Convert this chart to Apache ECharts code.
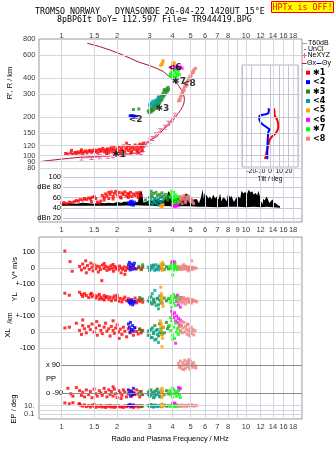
<!DOCTYPE html>
<html><head><meta charset="utf-8">
<script src="https://cdn.jsdelivr.net/npm/echarts@6/dist/echarts.min.js"></script>
<style>html,body{margin:0;padding:0;background:#fff}#chart{width:335px;height:451px}</style>
</head><body><div id="chart"></div>
<script>
const FONT = "'Liberation Sans', Arial, sans-serif";
const MONO = "'DejaVu Sans Mono', monospace";
const FMIN = 0.753, FMAX = 20.13;
const GRID_C = '#d6d6e0';

// frequency ticks
const freqGrid = [1, 1.5, 2, 3, 4, 5, 6, 7, 8, 9, 10, 12, 14, 16, 18];
const freqLabelsTop = [1, 1.5, 2, 3, 4, 5, 6, 7, 8, 10, 12, 14, 16, 18];
const freqLabelsMid = [1, 1.5, 2, 3, 4, 5, 6, 7, 8, 9, 10, 12, 14, 16, 18];
const freqLabelsBottom = [1, 1.5, 2, 3, 4, 5, 6, 7, 8, 10, 12, 14, 16, 18];
// range ticks
const rangeTicks = [800, 600, 400, 300, 200, 150, 120, 100, 90, 80];
const rangeLines = [600, 400, 300, 200, 150, 120, 100, 90, 80];
const tiltRangeLines = [100, 120, 150, 200, 300, 400];
const epLabels = [['10.', 10], ['0.1', 0.1]];
const epLines = [10, 1, 0.1];

// model profile and NeXYZ trace (MHz, km)
const modelCurve = [[1.377,741],[1.6,700],[1.83,657],[2.1,610],[2.35,568],[2.6,532],[3.01,497],[3.3,472],[3.56,448],[3.87,405],[4.12,378],[4.3,350],[4.45,325],[4.55,305],[4.62,285],[4.63,268],[4.6,255],[4.53,240],[4.42,226],[4.29,213],[4.15,200],[4.03,189],[3.87,177],[3.71,168],[3.56,159],[3.42,150],[3.28,141],[3.12,135],[3.01,131],[2.9,127],[2.83,123],[2.77,116],[2.72,110],[2.66,106],[2.45,104],[2.25,103],[2.0,101],[1.75,99.5],[1.5,98.3],[1.26,97.2],[1.1,95.5],[0.98,93.8],[0.85,91.8],[0.76,89.9]];
const neXYZ = [[1.28,96],[1.45,97],[1.61,98],[1.78,99],[1.9,100],[2.1,102],[2.35,104],[2.55,105],[2.68,106],[2.77,112],[2.88,123],[3.0,130],[3.1,136],[3.25,145],[3.42,156],[3.62,166],[3.79,178],[3.95,191],[4.12,206]];

// tilt profiles (deg, km)
const thetaX = [[-5.4,94.3],[-4.3,101],[-3.2,110.7],[-1.8,121],[-0.7,132],[1.8,140],[5.4,147],[7.9,156],[8.9,168],[8.6,180],[7.5,191],[5.7,200],[4.6,210],[5.0,219],[4.0,227],[5.4,231]];
const thetaY = [[-2.9,93.8],[-2.9,110.7],[-2.5,132],[-1.8,153],[-0.4,160],[-3.6,166],[-7.1,173],[-10,180],[-11.4,191],[-11.4,203],[-8.9,206.6],[-4.6,209],[-1.8,213],[-1.1,226],[0.4,230],[-1.8,233]];

// echo clusters: range (MHz, km)
const c1Range = [[1.05,104],[1.08,103],[1.12,105],[1.15,103],[1.18,106],[1.2,104],[1.22,107],[1.25,105],[1.27,108],[1.3,104],[1.32,107],[1.35,109],[1.37,105],[1.4,108],[1.42,110],[1.45,106],[1.47,109],[1.5,111],[1.52,107],[1.55,110],[1.57,105],[1.6,112],[1.62,108],[1.65,110],[1.67,114],[1.7,107],[1.72,111],[1.75,109],[1.77,113],[1.8,106],[1.82,111],[1.85,115],[1.87,108],[1.9,112],[1.92,117],[1.95,110],[1.97,106],[2.0,113],[2.03,118],[2.06,109],[2.1,115],[2.13,111],[2.16,119],[2.2,107],[2.23,113],[2.26,116],[2.3,110],[2.33,120],[2.36,114],[2.4,108],[2.43,117],[2.46,112],[2.5,121],[2.53,115],[2.56,110],[2.6,119],[2.63,113],[2.66,123],[2.7,116],[2.73,109],[2.76,120],[2.78,125],[1.13,110],[1.28,111],[1.75,104],[2.08,104],[2.38,105],[2.6,106],[2.25,125],[2.7,121]];
const c2Range = [[2.35,203],[2.38,204],[2.41,203],[2.44,202],[2.47,203],[2.5,201],[2.53,200],[2.56,199],[2.38,200],[2.45,199]];
const c3Range = [[2.45,228],[2.62,230],[2.95,222],[2.98,215],[3.02,228],[3.05,218],[3.08,232],[3.1,222],[3.13,238],[3.15,226],[3.2,245],[3.22,232],[3.25,252],[3.28,240],[3.3,260],[3.33,248],[3.36,270],[3.4,255],[3.42,280],[3.45,265],[3.48,290],[3.5,272],[3.53,300],[3.56,285],[3.58,312],[3.62,295],[3.65,320],[3.68,305],[3.72,330],[3.75,315],[3.78,338],[3.8,325],[3.35,285],[3.6,325]];
const c4Range = [[3.0,248],[3.05,256],[3.1,250],[3.12,264],[3.18,258],[3.22,268],[3.27,262],[3.3,274],[3.35,268],[3.38,280],[3.42,276],[3.15,246],[3.25,252],[3.02,240]];
const c5Range = [[3.44,500],[3.47,510],[3.5,505],[3.52,520],[3.55,545],[3.53,530],[3.98,495],[4.02,505],[4.05,515],[4.08,525],[4.0,520],[4.1,500]];
const c6Range = [[3.92,480],[3.98,470],[4.03,488],[4.08,475],[4.15,482],[4.2,470],[4.28,478],[4.35,470],[4.42,486],[4.5,475],[4.05,460],[4.25,492]];
const c7Range = [[3.9,430],[3.95,445],[4.0,420],[4.05,455],[4.08,410],[4.12,440],[4.15,400],[4.2,430],[4.25,415],[4.3,450],[3.92,405],[4.0,395],[4.18,460],[4.35,425],[3.88,420]];
const c8Range = [[4.3,265],[4.35,272],[4.4,280],[4.42,290],[4.46,298],[4.5,305],[4.53,315],[4.57,322],[4.6,330],[4.64,340],[4.68,348],[4.72,355],[4.76,365],[4.8,375],[4.85,385],[4.9,395],[4.95,405],[5.0,415],[5.05,425],[5.1,438],[5.15,448],[5.2,458],[5.27,468],[5.33,475],[4.38,268],[4.48,292],[4.62,318],[4.74,345],[4.88,380],[5.02,410],[5.18,440]];
const clusterTags = [['✱1',2.05,102.7],['<2',2.52,191],['✱3',3.52,233],['<6',4.1,476],['✱7',4.33,377],['<8',4.9,358]];

// amplitude (MHz, dB)
const c1Amp = [[1.0,49],[1.03,50],[1.06,48],[1.1,51],[1.13,50],[1.17,52],[1.2,54],[1.23,53],[1.26,56],[1.3,55],[1.33,58],[1.36,56],[1.4,59],[1.43,57],[1.46,60],[1.5,62],[1.53,58],[1.56,51],[1.6,49],[1.63,53],[1.66,64],[1.7,60],[1.73,67],[1.76,63],[1.8,70],[1.83,66],[1.86,71],[1.9,62],[1.93,68],[1.96,72],[2.0,65],[2.04,70],[2.08,61],[2.12,69],[2.16,66],[2.2,71],[2.24,63],[2.28,68],[2.32,65],[2.36,70],[2.4,62],[2.45,67],[2.5,64],[2.55,69],[2.6,66],[2.65,70],[2.7,63],[1.7,55],[1.9,57],[2.1,59],[2.3,60],[1.45,52],[1.8,58],[2.6,60]];
const c2Amp = [[2.3,50],[2.33,47],[2.36,52],[2.39,46],[2.42,49],[2.45,45],[2.48,51],[2.4,53]];
const c3Amp = [[2.85,55],[3.0,60],[3.03,66],[3.06,72],[3.1,62],[3.15,68],[3.2,58],[3.25,70],[3.3,64],[3.35,57],[3.4,66],[3.45,61],[3.5,69],[3.55,63],[3.6,58],[3.65,66],[3.7,60],[3.75,55],[3.8,62],[3.0,52],[3.2,50]];
const c4Amp = [[3.0,50],[3.05,56],[3.1,47],[3.15,53],[3.2,58],[3.25,49],[3.3,55],[3.35,45],[3.4,52],[3.45,60],[3.5,48],[3.55,54]];
const c5Amp = [[3.45,43],[3.48,45],[3.5,42],[3.53,44],[3.55,46]];
const c6Amp = [[3.98,44],[4.02,47],[4.06,43],[4.1,46],[4.15,42],[4.2,45],[4.25,48],[4.3,44]];
const c7Amp = [[3.88,60],[3.92,66],[3.95,72],[3.98,55],[4.02,63],[4.05,70],[4.08,58],[4.12,52],[4.15,65],[4.18,60],[4.22,55],[4.28,50],[4.32,62],[4.38,57],[4.0,48],[4.1,50]];
const c8Amp = [[4.35,52],[4.4,58],[4.45,62],[4.5,55],[4.55,60],[4.6,64],[4.65,57],[4.7,53],[4.75,61],[4.8,58],[4.85,63],[4.9,55],[4.95,60],[5.0,52],[5.05,57],[5.1,54],[5.15,50],[5.2,48],[4.5,48],[4.7,50]];
// noise level envelope (MHz, dB)
const noiseTop = [[1.0,48],[1.1,49],[1.2,48],[1.3,50],[1.4,49],[1.5,48],[1.6,50],[1.7,49],[1.8,50],[1.9,49],[2.0,51],[2.1,50],[2.2,52],[2.3,50],[2.4,51],[2.5,50],[2.6,52],[2.63,70],[2.72,72],[2.78,50],[2.9,52],[3.0,55],[3.1,53],[3.3,56],[3.5,54],[3.7,58],[3.78,72],[3.85,70],[3.95,58],[4.1,56],[4.3,60],[4.6,62],[4.7,68],[4.85,66],[5.0,58],[5.2,56],[5.4,57],[5.55,49],[5.7,60],[5.82,76],[5.9,56],[5.95,68],[6.1,65],[6.25,58],[6.37,62],[6.5,56],[6.64,66],[6.8,58],[6.93,62],[7.1,56],[7.23,68],[7.37,52],[7.5,60],[7.69,58],[7.85,52],[8.0,68],[8.2,60],[8.35,63],[8.5,55],[8.6,51],[8.8,58],[9.1,62],[9.3,58],[9.46,73],[9.7,68],[9.9,71],[10.1,66],[10.35,75],[10.6,70],[10.8,72],[11.0,66],[11.3,69],[11.5,64],[11.67,73],[11.9,62],[12.05,50],[12.15,52],[12.3,46],[12.4,58],[12.6,54],[12.95,62],[13.2,55],[13.4,49],[13.6,52],[13.9,56],[14.2,50],[14.5,49],[14.8,46],[15.1,44],[15.3,43]];
const noiseBottom = [[15.3,40],[14,41],[13,42],[12,41],[11,42],[10,41],[9,42],[8,42],[7,41],[6,42],[5.5,42],[5,43],[4,43],[3,44],[2.5,45],[2,44],[1.5,44],[1,44]];

// Doppler velocity V* (MHz, m/s)
const c1Vel = [[1.04,106],[1.11,40],[1.14,-20],[1.25,10],[1.28,-12],[1.3,25],[1.33,0],[1.36,-30],[1.38,15],[1.41,-8],[1.44,30],[1.46,5],[1.48,-18],[1.5,20],[1.53,-5],[1.55,12],[1.58,-25],[1.6,8],[1.62,-10],[1.65,-79],[1.66,18],[1.7,-3],[1.73,10],[1.76,-15],[1.79,5],[1.82,-8],[1.85,14],[1.88,-2],[1.91,-20],[1.94,9],[1.97,-6],[2.0,4],[2.03,-12],[2.06,12],[2.1,0],[2.14,-9],[2.18,7],[2.22,-16],[2.26,3],[2.3,-4],[2.35,10],[2.2,-40],[2.1,-30],[1.9,22],[1.7,28],[1.35,45],[2.45,8],[2.55,-5],[2.62,3],[2.7,-10],[2.75,6]];
const c2Vel = [[2.3,20],[2.33,35],[2.36,5],[2.39,25],[2.42,-8],[2.45,15],[2.48,30],[2.5,-5],[2.35,-12]];
const c3Vel = [[2.62,10],[2.7,-5],[2.75,20],[3.0,-15],[3.05,5],[3.15,18],[3.25,-8],[3.35,12],[3.45,-3],[3.55,22],[3.6,-10],[3.7,8],[3.8,-5]];
const c4Vel = [[2.95,5],[3.0,-10],[3.05,15],[3.1,-5],[3.15,10],[3.2,-15],[3.25,20],[3.3,0],[3.35,-12],[3.4,8]];
const c5Vel = [[3.45,25],[3.48,5],[3.5,-15],[3.52,35],[3.55,-5],[3.5,15]];
const c6Vel = [[3.95,35],[4.0,40],[4.05,30],[4.1,38],[4.02,25]];
const c7Vel = [[3.85,10],[3.9,-5],[3.95,20],[4.0,0],[4.05,-12],[4.1,15],[4.15,-3],[4.2,8],[4.25,-10],[4.3,5],[4.35,-5],[4.0,-44],[4.12,25]];
const c8Vel = [[4.3,10],[4.35,-5],[4.4,5],[4.45,-10],[4.5,12],[4.55,0],[4.6,-8],[4.65,8],[4.7,-3],[4.75,10],[4.8,-12],[4.85,3],[4.9,-6],[4.95,7],[5.0,-4],[5.05,2],[5.1,-10],[5.15,5],[5.25,-2],[5.35,0],[5.07,45],[4.6,20],[4.9,-18]];

// echo location YL (MHz, km)
const c1YL = [[1.04,42],[1.1,30],[1.25,48],[1.28,35],[1.3,22],[1.33,40],[1.36,28],[1.4,15],[1.43,35],[1.46,20],[1.5,30],[1.53,12],[1.56,25],[1.6,35],[1.63,18],[1.66,8],[1.7,28],[1.73,15],[1.76,22],[1.8,5],[1.83,18],[1.86,-5],[1.9,12],[1.93,25],[1.96,0],[2.0,15],[2.04,-8],[2.08,10],[2.12,-12],[2.16,5],[2.2,18],[2.25,-5],[2.3,8],[2.35,-15],[2.4,2],[2.45,-10],[2.5,12],[2.55,-18],[2.6,0],[2.65,-8],[2.7,6],[2.75,-14],[1.6,5],[2.0,30],[1.45,42],[1.7,0]];
const c2YL = [[2.3,-5],[2.33,-15],[2.36,-25],[2.4,-10],[2.43,-30],[2.46,-18],[2.5,-8],[2.38,0]];
const c3YL = [[2.65,15],[2.75,5],[3.0,-10],[3.05,20],[3.1,-25],[3.15,5],[3.2,-15],[3.3,10],[3.35,-30],[3.4,0],[3.5,-20],[3.6,12],[3.7,-5],[3.8,8]];
const c4YL = [[2.95,-5],[3.0,15],[3.05,-20],[3.1,40],[3.15,-8],[3.2,60],[3.25,-35],[3.3,10],[3.35,-55],[3.4,25],[3.45,-12]];
const c5YL = [[3.45,80],[3.47,40],[3.5,10],[3.52,-20],[3.55,-40],[3.5,25],[3.48,-5]];
const c6YL = [[4.15,20],[4.2,-10],[4.25,30],[4.3,-30],[4.35,5],[4.4,-45],[4.45,15]];
const c7YL = [[3.85,10],[3.9,-15],[3.95,25],[4.0,0],[4.05,-20],[4.1,15],[4.15,-35],[4.2,5],[4.25,-5],[4.3,20],[3.95,-45],[4.05,35]];
const c8YL = [[4.3,5],[4.35,-10],[4.4,10],[4.45,-5],[4.5,-20],[4.55,8],[4.6,-12],[4.65,0],[4.7,-25],[4.75,5],[4.8,-8],[4.85,10],[4.9,-15],[4.95,0],[5.0,-5],[5.05,-20],[5.1,3],[5.15,-10],[5.2,-3],[5.3,-6],[5.4,-12],[4.6,15]];

// echo location XL (MHz, km)
const c1XL = [[1.04,25],[1.1,30],[1.2,55],[1.25,10],[1.28,-15],[1.3,40],[1.33,20],[1.36,-5],[1.4,35],[1.43,15],[1.46,50],[1.5,0],[1.53,25],[1.56,-20],[1.6,40],[1.63,10],[1.66,-10],[1.7,30],[1.73,55],[1.76,5],[1.8,20],[1.83,-25],[1.86,35],[1.9,10],[1.93,-8],[1.96,25],[2.0,45],[2.04,0],[2.08,18],[2.12,-15],[2.16,30],[2.2,5],[2.25,-30],[2.3,20],[2.35,-5],[2.4,12],[2.45,-20],[2.5,28],[2.55,3],[2.6,-12],[2.65,15],[2.7,-5],[2.75,10],[1.9,70],[2.05,-40],[1.55,65],[1.3,75]];
const c2XL = [[2.3,50],[2.33,30],[2.36,60],[2.39,15],[2.42,40],[2.45,5],[2.48,25],[2.35,0]];
const c3XL = [[2.65,20],[2.72,5],[2.95,-20],[3.0,10],[3.05,-35],[3.1,25],[3.15,-10],[3.2,40],[3.25,-45],[3.3,15],[3.35,-25],[3.4,50],[3.45,0],[3.5,-15],[3.55,30],[3.6,-5],[3.7,60],[3.75,20],[3.8,35]];
const c4XL = [[2.95,5],[3.0,-20],[3.05,15],[3.1,-35],[3.15,0],[3.2,-50],[3.25,10],[3.3,-15],[3.35,-65],[3.4,-5],[3.45,20]];
const c5XL = [[3.42,70],[3.45,40],[3.48,10],[3.5,-20],[3.52,-40],[3.55,25],[3.5,-92],[3.47,55]];
const c6XL = [[3.95,130],[4.0,110],[4.05,90],[4.1,120],[4.15,70],[4.2,100],[4.25,60],[4.3,85],[4.35,45],[4.4,75],[4.45,40],[4.15,-70]];
const c7XL = [[3.85,40],[3.9,10],[3.95,70],[4.0,-20],[4.05,30],[4.1,-40],[4.15,55],[4.2,0],[4.25,20],[4.3,-15],[4.35,35],[4.4,5],[3.9,90],[4.0,-45]];
const c8XL = [[4.3,30],[4.35,55],[4.4,10],[4.45,40],[4.5,-5],[4.55,25],[4.6,60],[4.65,0],[4.7,35],[4.75,15],[4.8,-15],[4.85,45],[4.9,5],[4.95,20],[5.0,-10],[5.05,30],[5.1,0],[5.15,15],[5.2,-18],[5.3,8],[4.5,65],[4.8,50],[4.95,-25]];

// polarization PP (MHz, deg)
const c1PP = [[1.08,-60],[1.12,-95],[1.25,-75],[1.28,-105],[1.3,-85],[1.33,-115],[1.36,-70],[1.4,-100],[1.43,-80],[1.46,-120],[1.5,-65],[1.53,-95],[1.56,-110],[1.6,-75],[1.63,-90],[1.66,-105],[1.7,-60],[1.73,-85],[1.76,-115],[1.8,-70],[1.83,-100],[1.86,-80],[1.9,-110],[1.93,-65],[1.96,-95],[2.0,-120],[2.04,-75],[2.08,-90],[2.12,-105],[2.16,-70],[2.2,-85],[2.25,-115],[2.3,-95],[2.35,-75],[2.4,-110],[2.45,-85],[2.5,-100],[2.55,-70],[2.6,-95],[2.65,-115],[2.7,-80],[2.75,-100],[1.2,-55],[1.15,-110],[1.9,-50],[2.1,-125]];
const c2PP = [[2.3,-70],[2.33,-90],[2.36,-110],[2.39,-80],[2.42,-100],[2.45,-60],[2.48,-95]];
const c3PP = [[2.65,-80],[2.72,-100],[2.95,-85],[3.0,-110],[3.05,-70],[3.1,-95],[3.15,-120],[3.2,-80],[3.25,-100],[3.3,-65],[3.35,-90],[3.4,-115],[3.5,-80],[3.6,-100],[3.7,-75],[3.8,-95]];
const c4PP = [[2.95,-100],[3.0,-75],[3.05,-105],[3.1,-85],[3.15,-95],[3.2,-115],[3.25,-75],[3.3,-100],[3.35,-85],[3.4,-110]];
const c5PP = [[3.45,-70],[3.48,-90],[3.5,-120],[3.52,-80],[3.55,-105],[3.5,-60]];
const c6PP = [[4.3,-55],[4.35,-65],[4.4,-60]];
const c7PP = [[3.85,-75],[3.9,-100],[3.95,-85],[4.0,-115],[4.05,-70],[4.1,-95],[4.15,-80],[4.2,-110],[4.25,-90],[4.3,-75],[4.35,-100],[4.4,-120],[4.0,-60]];
const c8PP = [[4.3,100],[4.35,75],[4.4,115],[4.45,85],[4.5,65],[4.55,105],[4.6,90],[4.65,120],[4.7,70],[4.75,95],[4.8,110],[4.85,80],[4.9,100],[4.95,65],[5.0,115],[5.05,85],[5.1,95],[5.15,75],[5.2,105],[5.3,85],[5.35,70],[4.9,125],[4.6,60]];

// EP (MHz, deg)
const c1EP = [[1.04,45],[1.1,28],[1.15,50],[1.24,22],[1.27,12],[1.3,8],[1.33,15],[1.36,6],[1.4,10],[1.43,5],[1.46,12],[1.5,7],[1.53,4],[1.56,9],[1.6,6],[1.63,11],[1.66,5],[1.7,8],[1.73,4],[1.76,10],[1.8,6],[1.83,12],[1.86,5],[1.9,8],[1.93,4],[1.96,9],[2.0,6],[2.04,10],[2.08,5],[2.12,7],[2.16,4],[2.2,9],[2.25,6],[2.3,11],[2.35,5],[2.4,8],[2.45,4],[2.5,7],[2.55,10],[2.6,5],[2.65,8],[2.7,6],[2.75,9],[1.25,30],[1.5,20]];
const c2EP = [[2.3,12],[2.35,20],[2.4,8],[2.45,15]];
const c3EP = [[2.65,10],[2.72,7],[2.95,12],[3.0,6],[3.05,18],[3.1,9],[3.15,5],[3.2,14],[3.3,8],[3.4,11],[3.5,6],[3.6,13],[3.7,8],[3.8,10]];
const c4EP = [[3.0,10],[3.05,8],[3.1,12],[3.15,7],[3.2,9],[3.25,11],[3.3,6],[3.35,10],[3.4,8]];
const c5EP = [[3.45,15],[3.48,8],[3.5,25],[3.52,6],[3.55,12]];
const c6EP = [[4.0,35],[4.05,25],[4.1,40],[4.15,20]];
const c7EP = [[3.85,10],[3.9,7],[3.95,13],[4.0,8],[4.05,11],[4.1,6],[4.15,9],[4.2,12],[4.25,7],[4.3,10]];
const c8EP = [[4.3,12],[4.4,9],[4.5,15],[4.6,8],[4.7,12],[4.8,10],[4.9,14],[5.0,9],[5.1,11],[5.2,8],[5.3,12],[5.4,10],[4.45,7],[4.75,7],[5.05,16]];

const clusterNames = ['✱1', '<2', '✱3', '<4', '<5', '<6', '✱7', '<8'];
const clusterColors = ['#ff0000', '#0000ff', '#1e8c1e', '#00a0a0', '#ffa000', '#ff00ff', '#00ff00', '#f08080'];

const clusters = [
  [c1Range, c1Amp, c1Vel, c1YL, c1XL, c1PP, c1EP],
  [c2Range, c2Amp, c2Vel, c2YL, c2XL, c2PP, c2EP],
  [c3Range, c3Amp, c3Vel, c3YL, c3XL, c3PP, c3EP],
  [c4Range, c4Amp, c4Vel, c4YL, c4XL, c4PP, c4EP],
  [c5Range, c5Amp, c5Vel, c5YL, c5XL, c5PP, c5EP],
  [c6Range, c6Amp, c6Vel, c6YL, c6XL, c6PP, c6EP],
  [c7Range, c7Amp, c7Vel, c7YL, c7XL, c7PP, c7EP],
  [c8Range, c8Amp, c8Vel, c8YL, c8XL, c8PP, c8EP]
];

// grid layout: 0 range, 1 amplitude, 2 V*, 3 YL, 4 XL, 5 PP, 6 EP, 7 upper frame, 8 lower frame, 9 tilt inset
const grids = [
  {left: 39, top: 39, width: 263, height: 132},
  {left: 63, top: 177, width: 239, height: 41},
  {left: 39, top: 252, width: 263, height: 32},
  {left: 39, top: 284, width: 263, height: 32},
  {left: 39, top: 316, width: 263, height: 32},
  {left: 39, top: 365, width: 263, height: 28},
  {left: 39, top: 401.4, width: 263, height: 12.9},
  {left: 39, top: 39, width: 263, height: 183, show: true, borderColor: '#999', borderWidth: 1, backgroundColor: 'transparent'},
  {left: 39, top: 237, width: 263, height: 182, show: true, borderColor: '#999', borderWidth: 1, backgroundColor: 'transparent'},
  {left: 242, top: 65, width: 56, height: 102, show: true, borderColor: '#b4b4c4', borderWidth: 1, backgroundColor: '#fff'}
];

const hidden = {axisLine: {show: false}, axisTick: {show: false}, splitLine: {show: false}};
const tickText = {fontSize: 7.5, fontFamily: FONT, color: '#000'};

function freqAxis(i, min) {
  return Object.assign({type: 'log', logBase: 10, gridIndex: i, min: min || FMIN, max: FMAX, axisLabel: {show: false}}, hidden);
}
const xAxes = [];
for (let i = 0; i < 9; i++) xAxes.push(freqAxis(i, i === 1 ? 1.016 : FMIN));
xAxes.push({type: 'value', gridIndex: 9, min: -30, max: 30, interval: 10,
  axisLine: {show: false}, axisTick: {show: false},
  splitLine: {show: true, lineStyle: {color: '#c4c4d4', width: 1}},
  axisLabel: {margin: 1, fontSize: 6.5, fontFamily: FONT, color: '#000', formatter: v => Math.abs(v) === 30 ? '' : String(v)},
  name: 'Tilt / deg', nameLocation: 'middle', nameGap: 8, nameTextStyle: {fontSize: 6.5, fontFamily: FONT, color: '#000'}});

function rowAxis(i, labels) {
  return Object.assign({}, hidden, {type: 'value', gridIndex: i, min: -100, max: 100, interval: 100,
    splitLine: {show: true, lineStyle: {color: GRID_C, width: 1}},
    axisLabel: Object.assign({margin: 4, formatter: v => labels[v] || ''}, tickText)});
}
const yAxes = [
  Object.assign({type: 'log', logBase: 10, gridIndex: 0, min: 76.15, max: 800, axisLabel: {show: false}}, hidden),
  Object.assign({}, hidden, {type: 'value', gridIndex: 1, min: 20, max: 100, interval: 20,
    splitLine: {show: true, lineStyle: {color: '#c4c4e4', width: 1}},
    axisLabel: Object.assign({margin: 2, formatter: v => ({100: '100', 80: 'dBe 80', 60: '60', 40: '40', 20: 'dBn 20'})[v] || ''}, tickText)}),
  rowAxis(2, {'100': '100', '0': '0', '-100': '+-100'}),
  rowAxis(3, {'0': '0', '-100': '+-100'}),
  rowAxis(4, {'0': '0', '-100': '-100'}),
  Object.assign({}, hidden, {type: 'value', gridIndex: 5, min: -90, max: 90, interval: 90,
    axisLabel: Object.assign({inside: true, margin: 7, formatter: v => ({90: 'x 90', 0: 'PP', '-90': 'o -90'})[v] || ''}, tickText)}),
  Object.assign({type: 'log', logBase: 10, gridIndex: 6, min: 0.1, max: 100, axisLabel: {show: false}}, hidden),
  Object.assign({type: 'value', gridIndex: 7, min: 0, max: 1, axisLabel: {show: false}}, hidden),
  Object.assign({type: 'value', gridIndex: 8, min: 0, max: 1, axisLabel: {show: false}}, hidden),
  Object.assign({type: 'log', logBase: 10, gridIndex: 9, min: 81.75, max: 503.7, axisLabel: {show: false}}, hidden)
];

const series = [];
function lineMarks(axisIndex, items, color, z) {
  series.push({type: 'line', xAxisIndex: axisIndex, yAxisIndex: axisIndex, data: [], silent: true, z: z,
    markLine: {silent: true, symbol: ['none', 'none'], animation: false, label: {show: false},
      lineStyle: {color: color, width: 1, type: 'solid'}, emphasis: {disabled: true}, data: items}});
}
// frequency grid lines through both panels
lineMarks(7, freqGrid.map(f => ({xAxis: f})), GRID_C, -1);
lineMarks(8, freqGrid.map(f => ({xAxis: f})), GRID_C, -1);
// range grid lines
lineMarks(0, rangeLines.map(r => ({yAxis: r})), GRID_C, -1);
// tilt inset range lines
lineMarks(9, tiltRangeLines.map(r => ({yAxis: r})), '#c4c4d4', 1);
// PP reference lines
lineMarks(5, [[{coord: [1.0, 90]}, {coord: [FMAX, 90]}], [{coord: [1.0, -90]}, {coord: [FMAX, -90]}]], '#8a8a8a', 1);
// EP lines
lineMarks(6, epLines.map(v => ({yAxis: v})), GRID_C, -1);

function textSeries(axisIndex, items, pos, dist, style) {
  series.push({type: 'scatter', xAxisIndex: axisIndex, yAxisIndex: axisIndex, silent: true, clip: false, z: 6,
    symbol: 'circle', symbolSize: 1, itemStyle: {color: 'rgba(0,0,0,0)'},
    data: items.map(it => ({name: it[0], value: [it[1], it[2]]})),
    label: Object.assign({show: true, position: pos, distance: dist, formatter: '{b}'}, style || tickText)});
}
// frequency tick labels
textSeries(7, freqLabelsTop.map(f => [String(f), f, 1]), 'top', -1);
textSeries(7, freqLabelsMid.map(f => [String(f), f, 0]), 'bottom', 3);
textSeries(8, freqLabelsBottom.map(f => [String(f), f, 0]), 'bottom', 3);
// range tick labels
textSeries(0, rangeTicks.map(r => [String(r), FMIN, r]), 'left', 3);
// EP tick labels
textSeries(6, epLabels.map(e => [e[0], FMIN, e[1]]), 'left', 4);

// noise level
series.push({type: 'custom', name: 'T60dB', xAxisIndex: 1, yAxisIndex: 1, clip: false, silent: true, z: 2,
  data: [[1, 40]],
  renderItem: (params, api) => ({type: 'polygon', shape: {points: noiseTop.concat(noiseBottom).map(p => api.coord(p))}, style: {fill: '#000'}})});

// model profile and NeXYZ
series.push({type: 'line', name: 'model', xAxisIndex: 0, yAxisIndex: 0, data: modelCurve, showSymbol: false, symbol: 'none',
  lineStyle: {color: '#a8143c', width: 1}, silent: true, z: 2});
series.push({type: 'line', name: 'NeXYZ', xAxisIndex: 0, yAxisIndex: 0, data: neXYZ,
  symbol: 'path://M0,0H5V1H3V5H5V6H0V5H2V1H0Z', symbolSize: [4, 5], showSymbol: true,
  itemStyle: {color: '#f0609a'}, lineStyle: {color: '#f0609a', width: 1}, silent: true, z: 2});

// echo clusters in every panel (panel index equals grid index 0..6)
clusters.forEach((c, k) => {
  c.forEach((pts, panel) => {
    series.push({type: 'scatter', name: clusterNames[k], xAxisIndex: panel, yAxisIndex: panel,
      data: pts, symbol: 'rect', symbolSize: 3, clip: false, silent: true, z: 3,
      itemStyle: {color: clusterColors[k]}});
  });
});

// cluster tags on the range panel
textSeries(0, clusterTags, 'inside', 0, {fontSize: 9, fontWeight: 'bold', fontFamily: "'DejaVu Sans', sans-serif", color: '#000'});

// tilt profiles
series.push({type: 'line', name: 'Θx', xAxisIndex: 9, yAxisIndex: 9, data: thetaX, symbol: 'none',
  lineStyle: {color: '#ff0000', width: 2}, silent: true, z: 4});
series.push({type: 'line', name: 'Θy', xAxisIndex: 9, yAxisIndex: 9, data: thetaY, symbol: 'none',
  lineStyle: {color: '#0000ff', width: 2}, silent: true, z: 4});

// static texts, axis titles and key
const graphic = [
  {type: 'text', x: 35, y: 12, style: {text: 'TROMSO NORWAY   DYNASONDE 26-04-22 1420UT 15°E', font: '8.3px ' + MONO, fill: '#000', textAlign: 'left', textVerticalAlign: 'middle'}},
  {type: 'text', x: 57, y: 19.7, style: {text: '8pBP6It DoY= 112.597 File= TR944419.BPG', font: '8.3px ' + MONO, fill: '#000', textAlign: 'left', textVerticalAlign: 'middle'}},
  {type: 'rect', shape: {x: 271.5, y: 1.5, width: 62, height: 11}, style: {fill: '#ffff00', stroke: '#ff0000', lineWidth: 1}},
  {type: 'text', x: 302.5, y: 7.5, style: {text: 'HPTx is OFF!', font: '8.3px ' + MONO, fill: '#ff0000', textAlign: 'center', textVerticalAlign: 'middle'}},
  {type: 'text', x: 10, y: 83, rotation: Math.PI / 2, style: {text: "R', R / km", font: '7.5px ' + FONT, fill: '#000', textAlign: 'center', textVerticalAlign: 'middle'}},
  {type: 'text', x: 15, y: 268, rotation: Math.PI / 2, style: {text: 'V* m/s', font: '7.5px ' + FONT, fill: '#000', textAlign: 'center', textVerticalAlign: 'middle'}},
  {type: 'text', x: 15, y: 297, rotation: Math.PI / 2, style: {text: 'YL', font: '7.5px ' + FONT, fill: '#000', textAlign: 'center', textVerticalAlign: 'middle'}},
  {type: 'text', x: 10, y: 318, rotation: Math.PI / 2, style: {text: '/km', font: '7px ' + FONT, fill: '#000', textAlign: 'center', textVerticalAlign: 'middle'}},
  {type: 'text', x: 8, y: 333, rotation: Math.PI / 2, style: {text: 'XL', font: '7.5px ' + FONT, fill: '#000', textAlign: 'center', textVerticalAlign: 'middle'}},
  {type: 'text', x: 14, y: 409, rotation: Math.PI / 2, style: {text: 'EP / deg', font: '7.5px ' + FONT, fill: '#000', textAlign: 'center', textVerticalAlign: 'middle'}},
  {type: 'text', x: 170, y: 439, style: {text: 'Radio and Plasma Frequency / MHz', font: '7.3px ' + FONT, fill: '#000', textAlign: 'center', textVerticalAlign: 'middle'}},
  // key
  {type: 'line', shape: {x1: 302.5, y1: 43.5, x2: 307, y2: 43.5}, style: {stroke: '#999', lineWidth: 1}},
  {type: 'text', x: 308, y: 43.5, style: {text: 'T60dB', font: '7px ' + FONT, fill: '#000', textAlign: 'left', textVerticalAlign: 'middle'}},
  {type: 'rect', shape: {x: 304.5, y: 49, width: 1, height: 1}, style: {fill: '#000'}},
  {type: 'text', x: 308, y: 49.5, style: {text: 'UnCl', font: '7px ' + FONT, fill: '#000', textAlign: 'left', textVerticalAlign: 'middle'}},
  {type: 'line', shape: {x1: 302, y1: 55.5, x2: 307, y2: 55.5}, style: {stroke: '#f0609a', lineWidth: 1}},
  {type: 'line', shape: {x1: 304.5, y1: 53, x2: 304.5, y2: 58}, style: {stroke: '#f0609a', lineWidth: 1}},
  {type: 'text', x: 307.5, y: 55.5, style: {text: 'NeXYZ', font: '7px ' + FONT, fill: '#000', textAlign: 'left', textVerticalAlign: 'middle'}},
  {type: 'line', shape: {x1: 302, y1: 63.5, x2: 306.5, y2: 63.5}, style: {stroke: '#ff0000', lineWidth: 1}},
  {type: 'text', x: 307, y: 63.5, style: {text: 'Θx', font: '7px ' + FONT, fill: '#000', textAlign: 'left', textVerticalAlign: 'middle'}},
  {type: 'line', shape: {x1: 316.5, y1: 63.5, x2: 321.5, y2: 63.5}, style: {stroke: '#0000ff', lineWidth: 1}},
  {type: 'text', x: 322, y: 63.5, style: {text: 'Θy', font: '7px ' + FONT, fill: '#000', textAlign: 'left', textVerticalAlign: 'middle'}}
];
clusterNames.forEach((n, k) => {
  const y = 72.7 + k * 9.43;
  graphic.push({type: 'rect', shape: {x: 306, y: y - 2, width: 4, height: 4}, style: {fill: clusterColors[k]}});
  graphic.push({type: 'text', x: 313, y: y, style: {text: n, font: 'bold 8px ' + "'DejaVu Sans', sans-serif", fill: '#000', textAlign: 'left', textVerticalAlign: 'middle'}});
});

const chart = echarts.init(document.getElementById('chart'), null, {renderer: 'canvas'});
chart.setOption({
  animation: false,
  backgroundColor: '#fff',
  grid: grids,
  xAxis: xAxes,
  yAxis: yAxes,
  series: series,
  graphic: graphic
});
</script></body></html>
